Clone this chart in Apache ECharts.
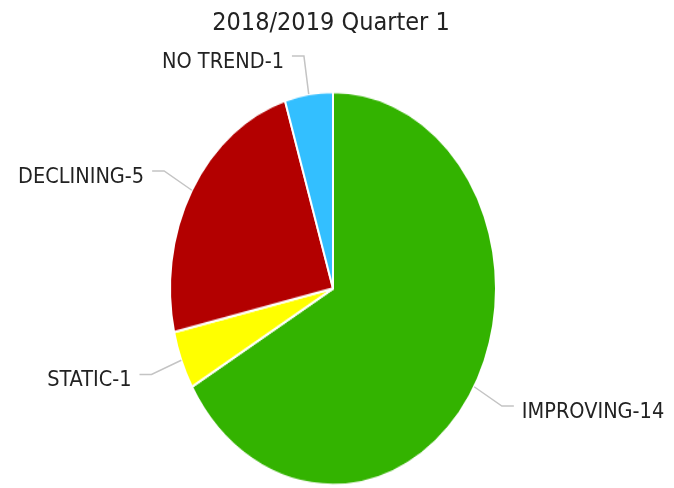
<!DOCTYPE html>
<html>
<head>
<meta charset="utf-8">
<script src="https://cdn.jsdelivr.net/npm/echarts@6/dist/echarts.min.js"></script>
<style>
  html, body { margin: 0; padding: 0; background: #fff; }
  #wrap { position: relative; width: 674px; height: 488px; overflow: hidden; }
  #pie { position: absolute; left: 0; top: 0; width: 674px; height: 405px; transform-origin: 0 0; }
  #labels { position: absolute; left: 0; top: 0; width: 674px; height: 488px; }
</style>
</head>
<body>
<div id="wrap"><div id="pie"></div><div id="labels"></div></div>
<script>
var categories = ['IMPROVING', 'STATIC', 'DECLINING', 'NO TREND'];
var counts = [14, 1, 5, 1];
var colors = ['#33b300', '#ffff00', '#b30000', '#33bfff'];
var titleText = '2018/2019 Quarter 1';

// the pie in the picture is an ellipse, so the sectors are drawn in a
// squashed layer and stretched back with css
var cx = 333, cy = 288.5, rx = 163, ry = 196.5;
var k = ry / rx;
var font = "'DejaVu Sans Condensed', 'DejaVu Sans', sans-serif";

var data = categories.map(function (c, i) {
  return { name: c, value: counts[i] };
});

document.getElementById('pie').style.transform = 'scaleY(' + k + ')';
document.getElementById('pie').style.height = (488 / k) + 'px';

var pieChart = echarts.init(document.getElementById('pie'));
pieChart.setOption({
  animation: false,
  color: colors,
  series: [
    {
      type: 'pie',
      center: [cx, cy / k],
      radius: rx,
      startAngle: 90,
      label: { show: false },
      labelLine: { show: false },
      itemStyle: { borderColor: '#fff', borderWidth: 2 },
      data: data
    }
  ]
});

var labelChart = echarts.init(document.getElementById('labels'));
labelChart.setOption({
  animation: false,
  title: {
    text: titleText,
    left: 331,
    textAlign: 'center',
    top: 11,
    padding: 0,
    textStyle: { fontFamily: font, fontSize: 25, fontWeight: 'normal', color: '#222' }
  },
  series: [
    {
      type: 'pie',
      silent: true,
      center: [cx, cy],
      radius: rx,
      startAngle: 90,
      itemStyle: { color: 'rgba(0,0,0,0)' },
      label: {
        show: true,
        formatter: '{b}-{c}',
        fontFamily: font,
        fontSize: 21.5,
        color: '#222',
        overflow: 'none',
        distanceToLabelLine: 8
      },
      labelLine: {
        show: true,
        length: 32,
        length2: 12,
        lineStyle: { color: '#c4c4c4', width: 1.5 }
      },
      // stretch label positions the same way as the sectors
      labelLayout: function (params) {
        var r = params.labelRect;
        var ly = r.y + r.height / 2;
        var out = { y: cy + (ly - cy) * k + 6 };
        if (params.labelLinePoints) {
          out.labelLinePoints = params.labelLinePoints.map(function (p) {
            return [p[0], cy + (p[1] - cy) * k];
          });
        }
        return out;
      },
      data: data
    }
  ]
});
</script>
</body>
</html>
